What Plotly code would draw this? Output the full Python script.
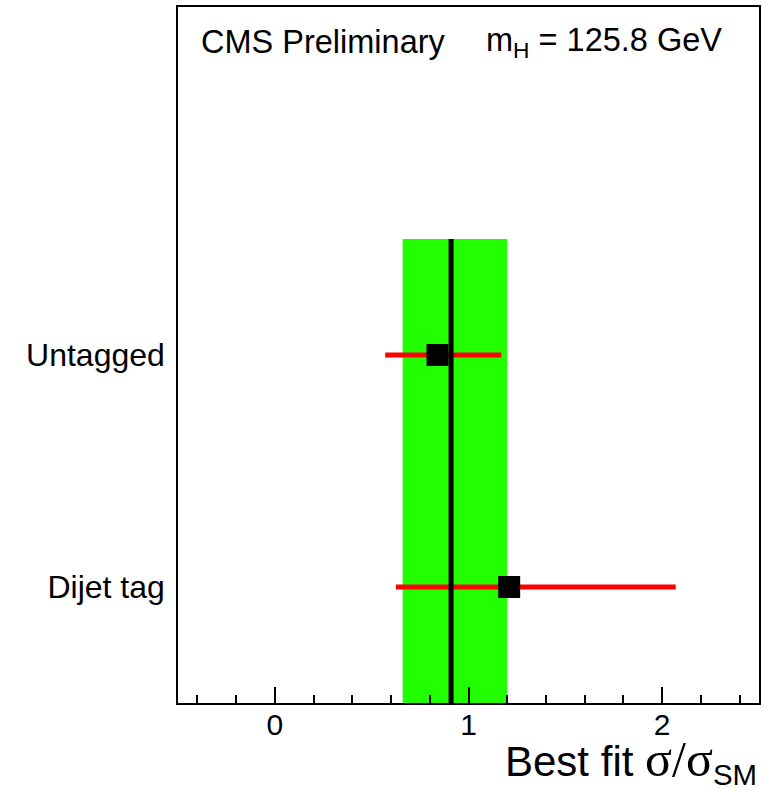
import plotly.graph_objects as go

categories = ["Untagged", "Dijet tag"]
cat_pos = [1.5, 0.5]
mu = [0.84, 1.21]
err_lo = [0.27, 0.585]
err_hi = [0.33, 0.86]

comb_mu = 0.91
band_lo = 0.66
band_hi = 1.20
band_y = [0, 2]

x_ticks = [0, 1, 2]

fig = go.Figure()

# combined band
fig.add_trace(go.Scatter(
    x=[band_lo, band_hi, band_hi, band_lo, band_lo],
    y=[band_y[0], band_y[0], band_y[1], band_y[1], band_y[0]],
    fill="toself", fillcolor="#22ff00", mode="lines",
    line=dict(width=0, color="#22ff00"), hoverinfo="skip", showlegend=False))

# error bars (beneath line)
fig.add_trace(go.Scatter(
    x=mu, y=cat_pos, mode="markers",
    marker=dict(size=1, color="rgba(0,0,0,0)"),
    error_x=dict(type="data", symmetric=False, array=err_hi, arrayminus=err_lo,
                 color="#ff0000", thickness=5, width=0),
    showlegend=False))

# combined best fit line
fig.add_trace(go.Scatter(
    x=[comb_mu, comb_mu], y=band_y, mode="lines",
    line=dict(color="black", width=5), showlegend=False))

# markers
fig.add_trace(go.Scatter(
    x=mu, y=cat_pos, mode="markers",
    marker=dict(symbol="square", size=22, color="black"),
    showlegend=False))

font_main = "Liberation Sans, Arial, Helvetica, sans-serif"

fig.update_layout(
    width=766, height=790,
    margin=dict(l=178, r=6, t=5, b=87),
    paper_bgcolor="white", plot_bgcolor="white",
    font=dict(family=font_main, color="black", size=30),
    xaxis=dict(range=[-0.5, 2.5], showgrid=False, zeroline=False,
               showline=True, linecolor="black", linewidth=1.5, mirror=True,
               tickvals=x_ticks, ticktext=[str(v) for v in x_ticks],
               ticks="inside", ticklen=16, tickcolor="black", tickwidth=1.5,
               minor=dict(dtick=0.2, tick0=0, ticks="inside", ticklen=8,
                          tickcolor="black", tickwidth=1.5),
               tickfont=dict(size=30), ticklabelstandoff=-6),
    yaxis=dict(range=[0, 3], showgrid=False, zeroline=False,
               showline=True, linecolor="black", linewidth=1.5, mirror=True,
               tickvals=cat_pos, ticktext=categories, ticks="",
               tickfont=dict(size=32), ticklabelstandoff=5),
    annotations=[
        dict(text="CMS Preliminary", xref="paper", yref="paper",
             x=0.037, y=0.949, xanchor="left", yanchor="middle",
             showarrow=False, font=dict(size=32.5)),
        dict(text="m<sub>H</sub> = 125.8 GeV", xref="paper", yref="paper",
             x=0.527, y=0.949, xanchor="left", yanchor="middle",
             showarrow=False, font=dict(size=32.5)),
        dict(text="Best fit <span style=\"font-family:'Liberation Serif','Times New Roman',serif;font-size:50px\">σ/σ</span><sub>SM</sub>",
             xref="paper", yref="paper", x=1.0, y=-0.083,
             xanchor="right", yanchor="middle", showarrow=False,
             font=dict(size=42)),
    ],
)

fig.write_html("out.html")
